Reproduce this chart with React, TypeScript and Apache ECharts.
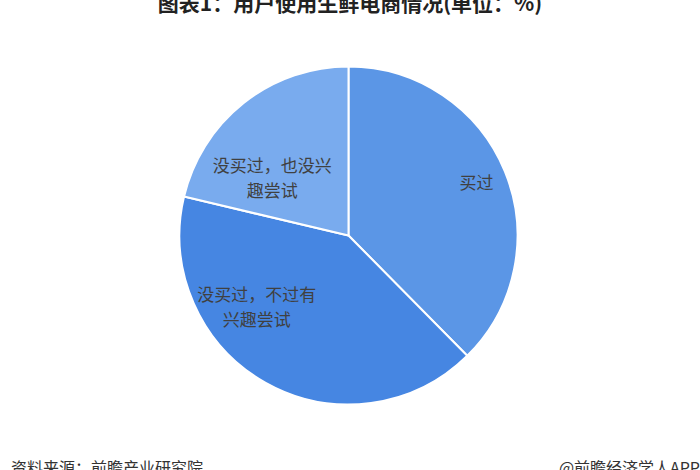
import React, { useEffect, useRef } from "react";
import * as echarts from "echarts";

const categories = ["买过", "没买过，不过有\n兴趣尝试", "没买过，也没兴\n趣尝试"];
const values = [37.6, 41.1, 21.3];
const colors = ["#5b96e6", "#4686e2", "#79abee"];
const labelShift = [
  [47, -21],
  [-49, -6],
  [-22, 10],
];

const FONT = "'Noto Sans CJK SC', 'Noto Sans', sans-serif";

export default function App() {
  const ref = useRef<HTMLDivElement>(null);
  useEffect(() => {
    if (!ref.current) return;
    const chart = echarts.init(ref.current, undefined, { renderer: "svg" });
    chart.setOption({
      animation: false,
      backgroundColor: "#ffffff",
      graphic: [
        {
          type: "text",
          left: "center",
          top: -9,
          style: {
            text: "图表1：用户使用生鲜电商情况(单位：%)",
            font: `bold 21px ${FONT}`,
            fill: "#222222",
          },
        },
        {
          type: "text",
          left: 11,
          top: 459,
          style: {
            text: "资料来源：前瞻产业研究院",
            font: `16px ${FONT}`,
            fill: "#333333",
          },
        },
        {
          type: "text",
          right: 0,
          top: 459,
          style: {
            text: "@前瞻经济学人APP",
            font: `16px ${FONT}`,
            fill: "#333333",
          },
        },
      ],
      series: [
        {
          type: "pie",
          center: [348.5, 235.5],
          radius: [0, 169],
          startAngle: 90,
          clockwise: true,
          itemStyle: { borderColor: "#ffffff", borderWidth: 2 },
          label: {
            show: true,
            position: "inside",
            formatter: "{b}",
            color: "#404040",
            fontSize: 17,
            lineHeight: 25,
            fontFamily: FONT,
            align: "center",
          },
          labelLayout: (p: any) => ({
            dx: labelShift[p.dataIndex][0],
            dy: labelShift[p.dataIndex][1],
          }),
          emphasis: { disabled: true },
          data: categories.map((c, i) => ({
            name: c,
            value: values[i],
            itemStyle: { color: colors[i] },
          })),
        },
      ],
    });
    return () => chart.dispose();
  }, []);
  return <div ref={ref} style={{ width: 700, height: 470, position: "absolute", left: 0, top: 0 }} />;
}
